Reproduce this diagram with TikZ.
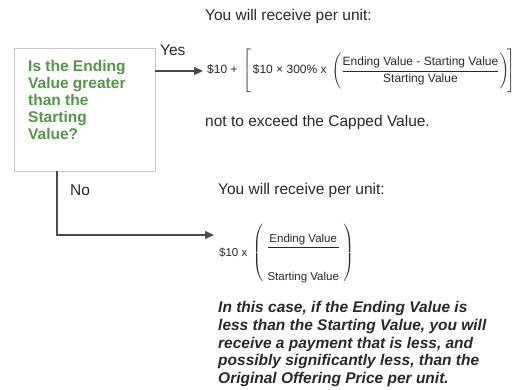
\documentclass[tikz,border=0pt]{standalone}
\usepackage{amsmath}
\usepackage{fontspec}
\setmainfont{Liberation Sans}
\usetikzlibrary{arrows.meta}
\definecolor{qgreen}{RGB}{78,154,64}
\definecolor{ink}{RGB}{40,40,40}
\definecolor{wire}{RGB}{75,75,75}

\begin{document}
\begin{tikzpicture}[x=1pt,y=1pt,
  txt/.style={font=\fontsize{15.5}{17.5}\selectfont,text=ink,inner sep=0pt,anchor=west},
  eqn/.style={font=\fontsize{12}{14}\selectfont,text=ink,inner sep=0pt,anchor=west},
  qbox/.style={draw=black!22,line width=0.8pt,minimum width=141,minimum height=123,inner sep=0pt},
  flow/.style={draw=wire,line width=1.3pt,-{Triangle[length=9pt,width=8pt]}}]
  \useasboundingbox (0,0) rectangle (517,389);
  % question box
  \node[qbox] (q) at (84.5,279.5) {};
  \node[txt,anchor=north west,align=left,text=qgreen,font=\bfseries\fontsize{15.5}{17}\selectfont]
    (qlabel) at (28,329) {Is the Ending\\Value greater\\than the\\Starting\\Value?};
  % yes branch
  \node[txt] (topnote) at (205,373) {You will receive per unit:};
  \node[txt] (yes) at (160,339) {Yes};
  \node[eqn] (yesf) at (207,318)
    {$\displaystyle\text{\$10 +\ }\left[\rule[-19pt]{0pt}{44pt}\,\text{\$10 × 300\% x\ }\left(\rule[-16pt]{0pt}{38pt}\frac{\text{Ending Value - Starting Value}}{\text{Starting Value}}\right)\!\right]$};
  \node[txt] (cap) at (205,267) {not to exceed the Capped Value.};
  \coordinate (yesend) at (203,0);
  \draw[flow] (q.east |- yesf.west) -- (yesend |- yesf.west);
  % no branch
  \node[txt] (no) at (70,199) {No};
  \node[txt] (botnote) at (218,199) {You will receive per unit:};
  \node[eqn,font=\fontsize{11.5}{13}\selectfont] (nof) at (219,136)
    {$\displaystyle\text{\$10 x\ }\left(\;\vcenter{\hbox{$\displaystyle\frac{\rule{0pt}{19pt}\text{Ending Value}}{\rule{0pt}{31pt}\text{Starting Value}}$}}\;\right)$};
  \coordinate (noturn) at (57,154);
  \coordinate (noend) at (214,154);
  \draw[flow] (q.south -| noturn) -- (noturn) -- (noend);
  \node[txt,anchor=north west,align=left,font=\bfseries\itshape\fontsize{15.5}{17.8}\selectfont]
    (warn) at (218,88) {In this case, if the Ending Value is\\less than the Starting Value, you will\\receive a payment that is less, and\\possibly significantly less, than the\\Original Offering Price per unit.};
\end{tikzpicture}
\end{document}
